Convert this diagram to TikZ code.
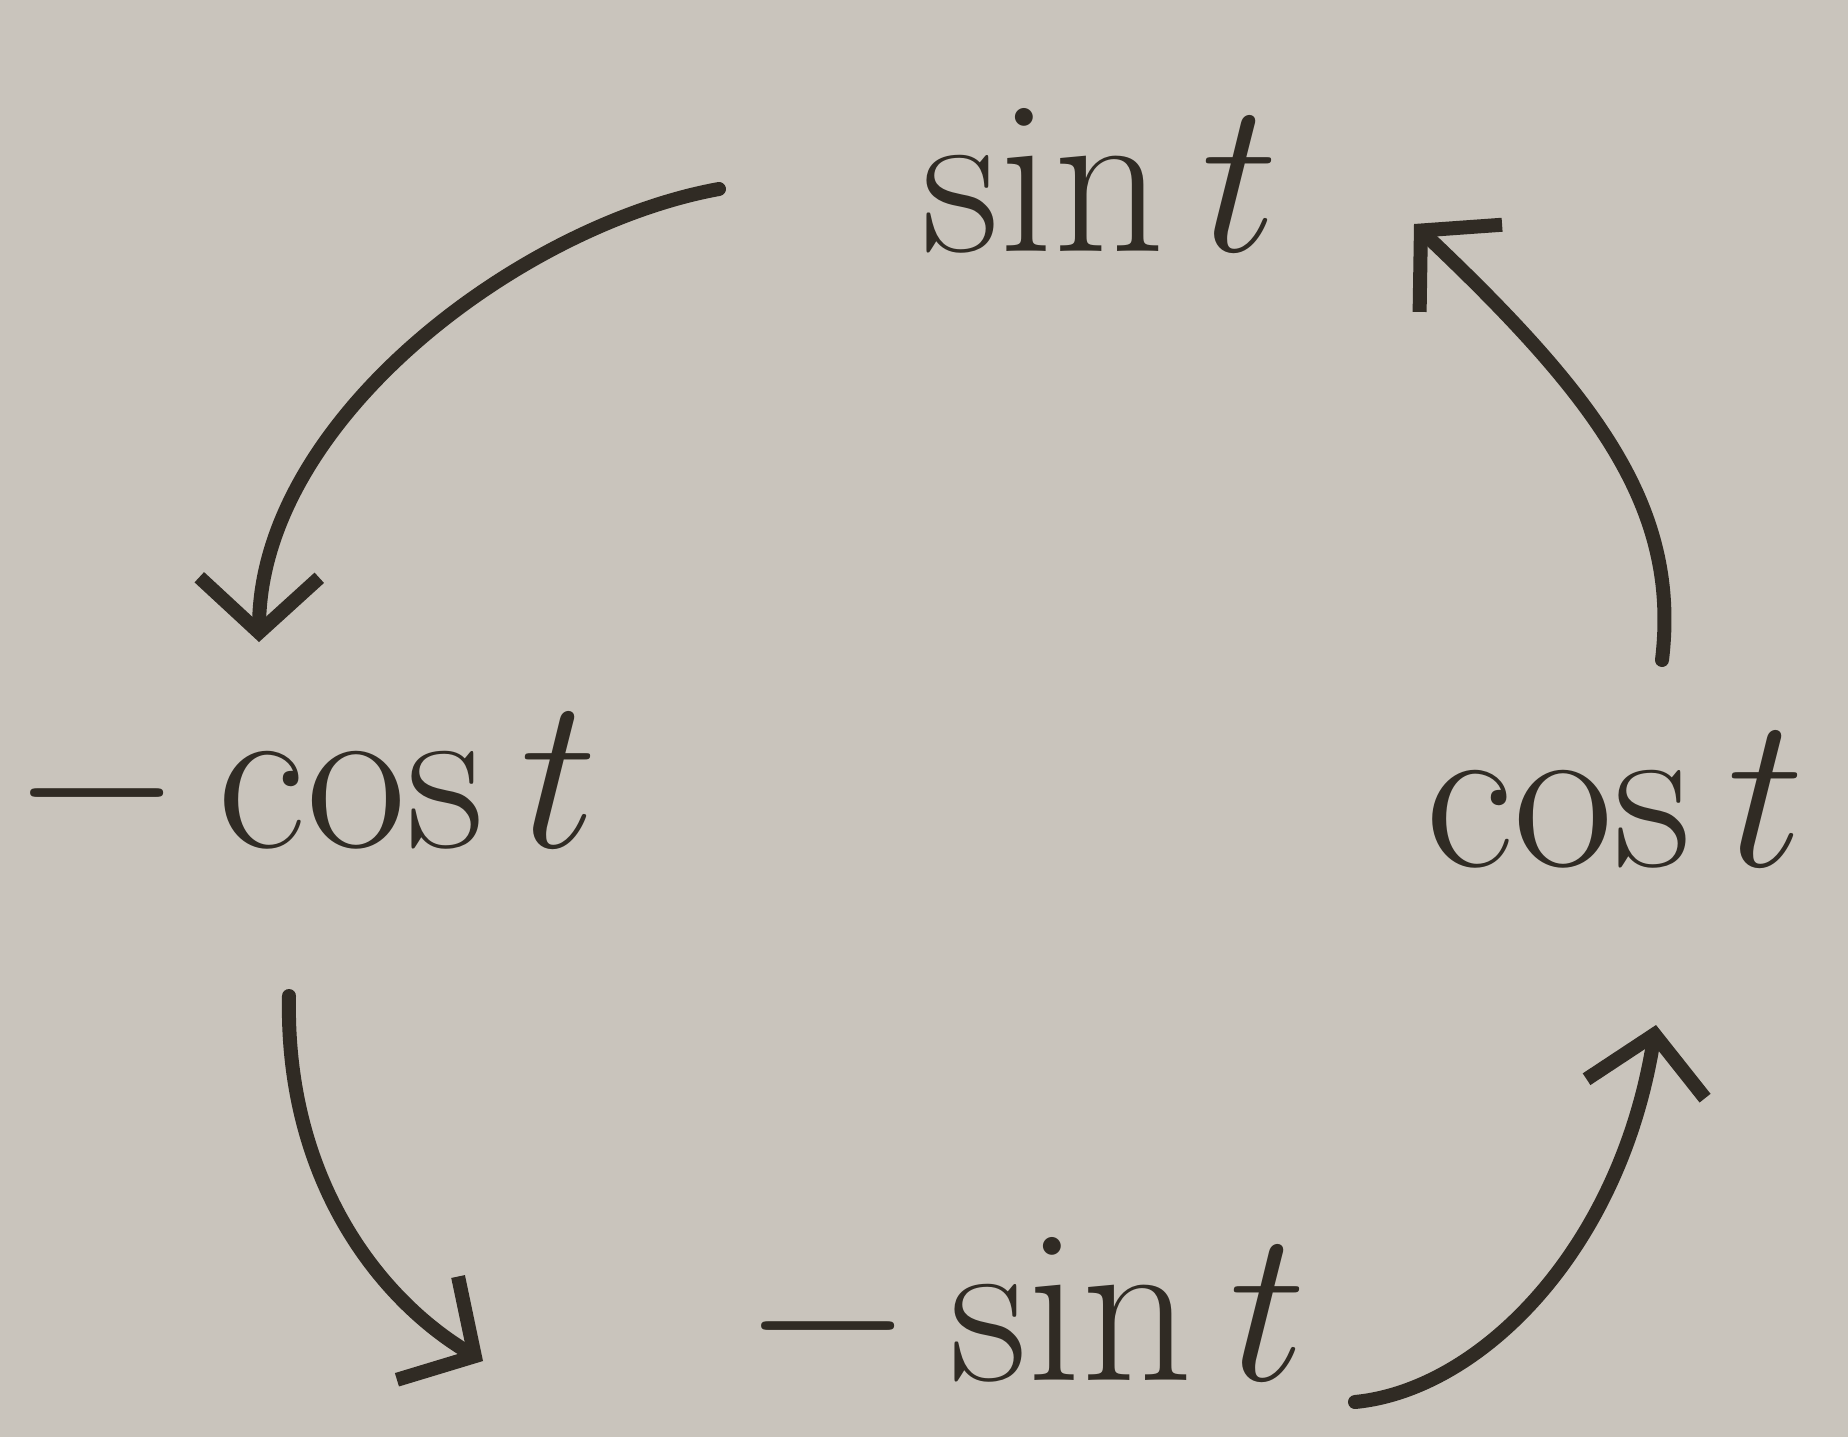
\documentclass[tikz,border=0pt]{standalone}
\usetikzlibrary{arrows.meta}
\definecolor{paper}{RGB}{201,196,188}
\definecolor{ink}{RGB}{48,43,36}
\begin{document}
\begin{tikzpicture}[x=1pt,y=-1pt,
  lbl/.style={text=ink,font=\fontsize{20}{24}\selectfont,inner sep=0pt,scale=10.5},
  arr/.style={draw=ink,line width=14pt,line cap=round,
    -{Straight Barb[length=55pt,width=120pt,line width=14pt]}}]
\fill[paper] (0,0) rectangle (1848,1437);
\useasboundingbox (0,0) rectangle (1848,1437);
\node[lbl] (s) at (1100,180) {$\sin t$};
\node[lbl] (c) at (1615,800) {$\cos t$};
\node[lbl] (mc) at (305,790) {${-}\cos t$};
\node[lbl] (ms) at (1025,1318) {${-}\sin t$};
\coordinate (a1) at (719,189);
\coordinate (b1) at (259,642);
\coordinate (a2) at (289,996);
\coordinate (b2) at (483,1361);
\coordinate (a3) at (1355,1402);
\coordinate (b3) at (1656,1025);
\coordinate (a4) at (1662,660);
\coordinate (b4) at (1414,224);
\draw[arr] (a1) .. controls (520,225) and (260,420) .. (b1);
\draw[arr] (a2) .. controls (285,1180) and (380,1300) .. (b2);
\draw[arr] (a3) .. controls (1480,1390) and (1620,1250) .. (b3);
\draw[arr] (a4) .. controls (1680,510) and (1600,400) .. (b4);
\end{tikzpicture}
\end{document}
